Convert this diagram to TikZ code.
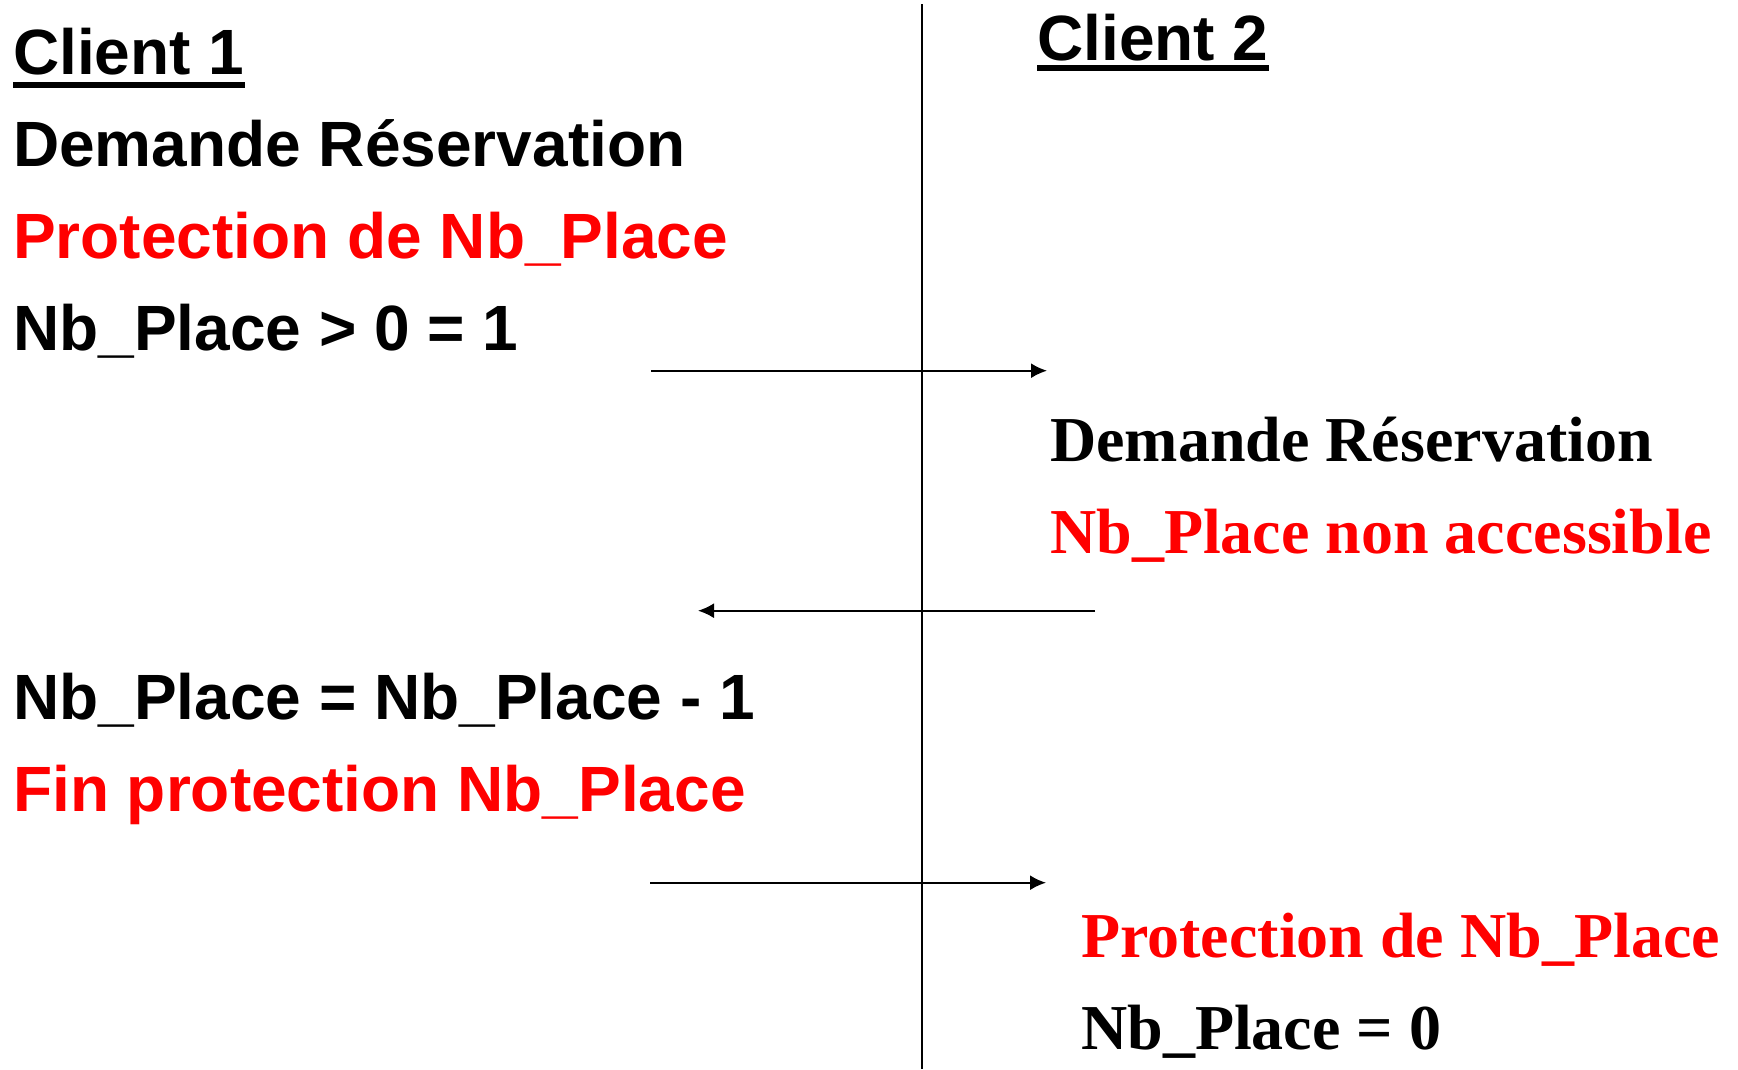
\documentclass[tikz,border=0pt]{standalone}
\usepackage{fontspec}
\usetikzlibrary{arrows.meta}
\newfontfamily\arialfam{Liberation Sans}
\newfontfamily\seriffam{Liberation Serif}
\definecolor{alertred}{RGB}{255,0,0}
\begin{document}
\begin{tikzpicture}[x=1pt,y=-1pt,
  sanstxt/.style={anchor=base west, inner sep=0pt, font=\arialfam\bfseries\fontsize{64}{64}\selectfont},
  seriftxt/.style={anchor=base west, inner sep=0pt, font=\seriffam\bfseries\fontsize{64}{64}\selectfont},
  alert/.style={text=alertred},
  lifeline/.style={line width=2pt, black},
  msg/.style={line width=2pt, black, -{Latex[length=16pt,width=15pt]}},
  ulbar/.style={fill=black}]
  \useasboundingbox[fill=white] (0,0) rectangle (1738,1069);

  % separation between the two clients
  \coordinate (top) at (921.5,4);
  \coordinate (bot) at (921.5,1069);
  \draw[lifeline] (top) -- (bot);

  % client 1 column
  \node[sanstxt] (c1) at (13,74) {Client 1};
  \fill[ulbar] ([yshift=-8pt]c1.base west) rectangle ([yshift=-13.5pt]c1.base east);
  \node[sanstxt] (dr1) at (13,166) {Demande Réservation};
  \node[sanstxt, alert] (p1) at (13,258) {Protection de Nb\_Place};
  \node[sanstxt] (nb1) at (13,350) {Nb\_Place > 0 = 1};
  \node[sanstxt] (nb2) at (13,719) {Nb\_Place = Nb\_Place - 1};
  \node[sanstxt, alert] (fin) at (13,811) {Fin protection Nb\_Place};

  % client 2 column
  \node[sanstxt] (c2) at (1037,60) {Client 2};
  \fill[ulbar] ([yshift=-5pt]c2.base west) rectangle ([yshift=-11pt]c2.base east);
  \node[seriftxt] (dr2) at (1050,461) {Demande Réservation};
  \node[seriftxt, alert] (na) at (1050,553) {Nb\_Place non accessible};
  \node[seriftxt, alert] (p2) at (1081,957) {Protection de Nb\_Place};
  \node[seriftxt] (nb3) at (1081,1049) {Nb\_Place = 0};

  % messages
  \coordinate (m1s) at (651,370.7);
  \coordinate (m1e) at (1047,370.7);
  \coordinate (m2s) at (1095,610.7);
  \coordinate (m2e) at (698,610.7);
  \coordinate (m3s) at (650,882.7);
  \coordinate (m3e) at (1046,882.7);
  \draw[msg] (m1s) -- (m1e);
  \draw[msg] (m2s) -- (m2e);
  \draw[msg] (m3s) -- (m3e);
\end{tikzpicture}
\end{document}
